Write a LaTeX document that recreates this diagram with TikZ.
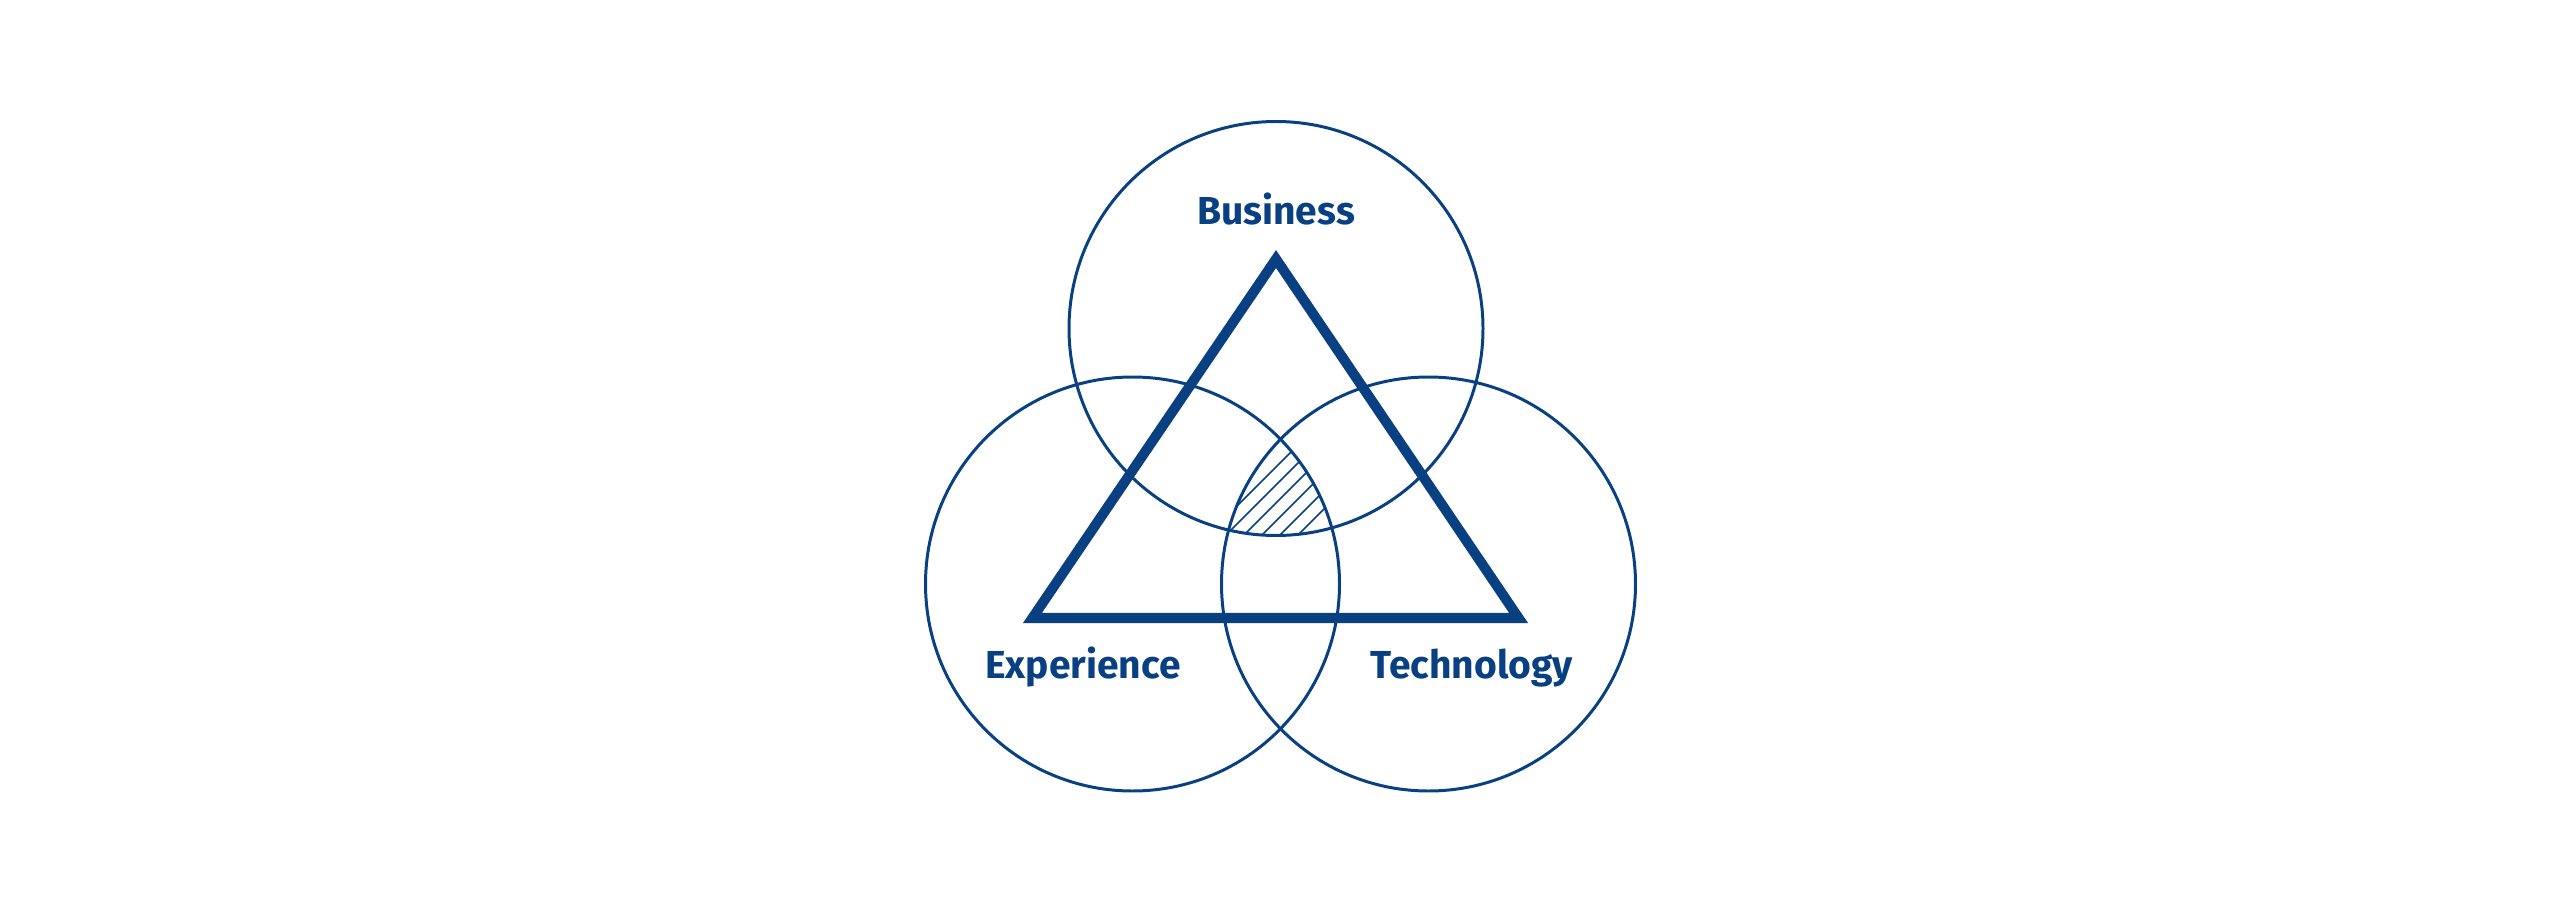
\documentclass[tikz,border=0pt]{standalone}
\usepackage{fontspec}
\setmainfont{Fira Sans}
\definecolor{navy}{RGB}{8,64,130}
\begin{document}
\begin{tikzpicture}[x=0.1mm,y=0.1mm,
  ring/.style={draw=navy,line width=0.85pt},
  hatch/.style={draw=navy,line width=0.45pt},
  label/.style={text=navy,font=\bfseries\fontsize{11.1}{13}\selectfont,anchor=base,inner sep=0pt}]
\useasboundingbox (0,0) rectangle (2560,899);
\coordinate (B) at (1276,570.5);
\coordinate (E) at (1132.5,315);
\coordinate (T) at (1428.5,315);
% hatched middle
\begin{scope}
\clip (B) circle (207);
\clip (E) circle (207);
\clip (T) circle (207);
\foreach \k in {844,862,...,934} \draw[hatch] (\k+300,300) -- (\k+600,600);
\end{scope}
\draw[ring] (B) circle (207);
\draw[ring] (E) circle (207);
\draw[ring] (T) circle (207);
\draw[navy,line width=2.85pt] (1276,640) -- (1518.6,281) -- (1032.4,281) -- cycle;
\node[label] (business) at (1276,675) {Business};
\node[label] (experience) at (1083,221) {Experience};
\node[label] (technology) at (1471.5,221) {Technology};
\end{tikzpicture}
\end{document}
